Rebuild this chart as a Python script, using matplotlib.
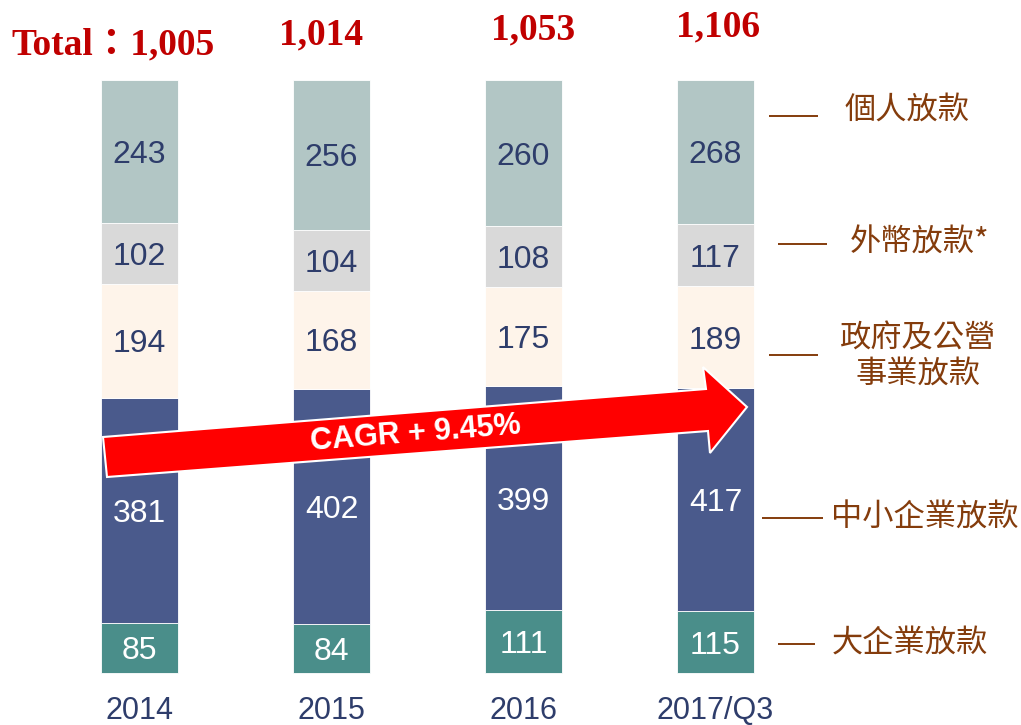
import matplotlib
matplotlib.use("Agg")
import matplotlib.pyplot as plt
from matplotlib.patches import Polygon
import numpy as np

# data
years = ["2014", "2015", "2016", "2017/Q3"]
large_corp = [85, 84, 111, 115]
sme = [381, 402, 399, 417]
government = [194, 168, 175, 189]
foreign_ccy = [102, 104, 108, 117]
personal = [243, 256, 260, 268]
series_names = ["大企業放款", "中小企業放款", "政府及公營\n事業放款", "外幣放款*", "個人放款"]
cagr_label = "CAGR + 9.45%"

# styles
seg_colors = ["#4A8E8A", "#4A5A8C", "#FEF4EA", "#D9D9D9", "#B2C6C5"]
val_colors = ["white", "white", "#2E3D6B", "#2E3D6B", "#2E3D6B"]
navy = "#2E3D6B"
brown = "#843C0C"
red_txt = "#C00000"

W, H = 1021, 725
fig = plt.figure(figsize=(W / 100, H / 100), dpi=100)
ax = fig.add_axes([0, 0, 1, 1])
# map so bars sit where they sit in the reference (bar pitch 192px, 100% = 593px)
ax.set_xlim(-139.5 / 192, (W - 139.5) / 192)
ax.set_ylim(-(H - 673) / 593, 1 + 80 / 593)
ax.axis("off")


def fx(px):
    return px / W


def fy(py):
    return 1 - py / H


series = np.array([large_corp, sme, government, foreign_ccy, personal], dtype=float)
totals = series.sum(axis=0)
shares = series / totals
x = np.arange(len(years))
bottom = np.zeros(len(years))

for i in range(len(series)):
    ax.bar(x, shares[i], width=0.40, bottom=bottom, color=seg_colors[i],
           edgecolor="white", linewidth=0.6, zorder=2)
    for j in range(len(years)):
        ax.text(x[j], bottom[j] + shares[i][j] / 2, f"{int(series[i][j])}",
                ha="center", va="center_baseline", fontsize=23, color=val_colors[i],
                family="Liberation Sans", zorder=5)
    bottom += shares[i]

# year labels, just under the bars
for j in range(len(years)):
    ax.annotate(years[j], (x[j], 0), xytext=(0, -38), textcoords="offset pixels",
                ha="center", va="center", fontsize=22, color=navy,
                family="Liberation Sans")

# totals on top
total_pos = [(215, 45, "right"), (321, 35, "center"), (533, 30, "center"), (718, 27, "center")]
for j, (px, py, ha) in enumerate(total_pos):
    txt = f"{int(totals[j]):,}"
    if j == 0:
        txt = "Total：" + txt
    fig.text(fx(px), fy(py), txt, ha=ha, va="center", fontsize=27, fontweight="bold",
             color=red_txt, family=["Liberation Serif", "Noto Sans CJK TC"])

# right side labels with leader lines
label_pos = [
    ((778, 815), 644, 910, 644),
    ((762, 823), 518, 925, 518),
    ((769, 818), 355, 918, 356),
    ((778, 827), 244, 920, 243),
    ((769, 818), 116, 907, 110),
]
for i, ((x0, x1), ly, tx, ty) in enumerate(label_pos):
    ax.plot([fx(x0), fx(x1)], [fy(ly), fy(ly)], transform=fig.transFigure,
            color=brown, lw=1.4, solid_capstyle="butt")
    fig.text(fx(tx), fy(ty), series_names[i], ha="center", va="center",
             fontsize=22.5, color=brown, family=["Noto Sans CJK TC", "DejaVu Sans"],
             linespacing=1.15)

# CAGR arrow
arrow_px = [(103, 437), (706, 389), (703, 367), (747, 407), (710, 453), (708, 431), (107, 477)]
arrow = Polygon([(fx(a), fy(b)) for a, b in arrow_px], closed=True, transform=fig.transFigure,
                facecolor="#FF0000", edgecolor="white", linewidth=1.5, zorder=10)
fig.add_artist(arrow)
fig.text(fx(416), fy(434), cagr_label, ha="center", va="center", rotation=4.5,
         fontsize=22, fontweight="bold", color="white", family="Liberation Sans", zorder=11)

fig.savefig("out.png", dpi=100)
